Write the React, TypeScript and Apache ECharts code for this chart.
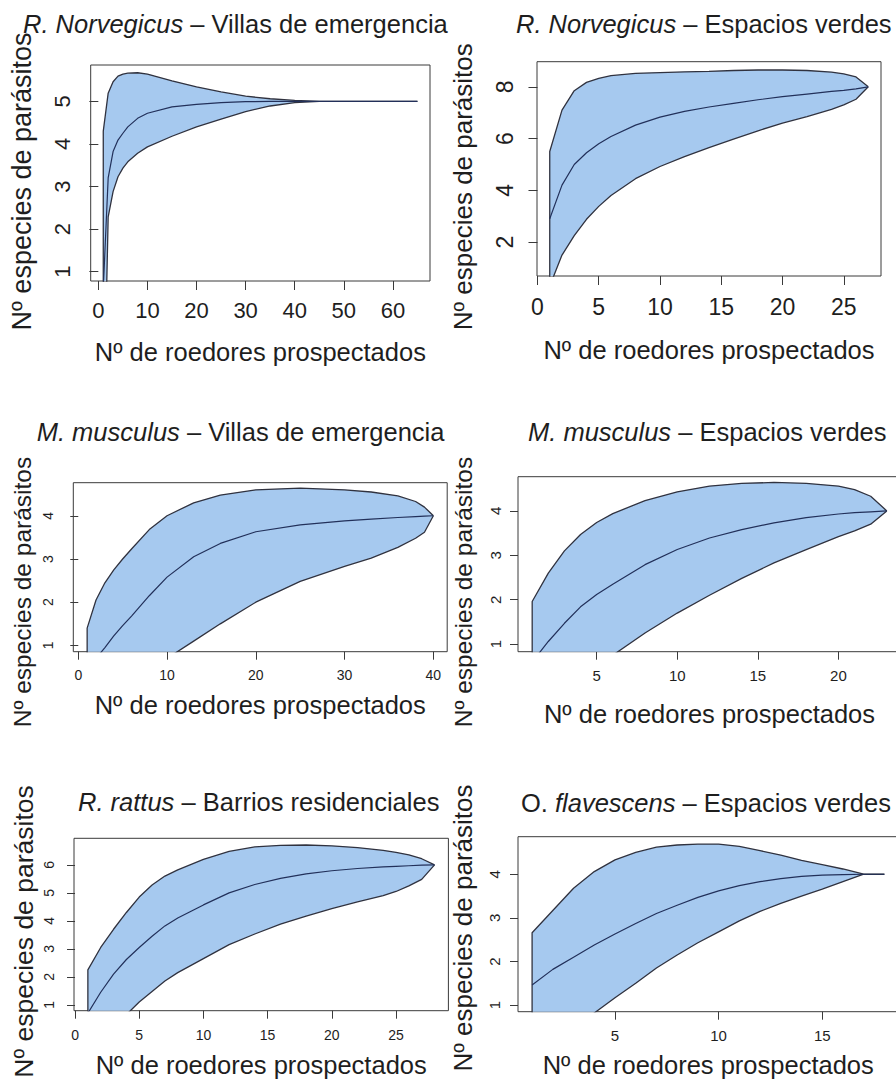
import React, { useEffect, useRef } from "react";
import * as echarts from "echarts";

// ---------- data ----------
const Y_NAME = "Nº especies de parásitos";
const X_NAME = "Nº de roedores prospectados";

// titles: [normal prefix, italic part, normal suffix]
const TITLE_1 = ["", "R. Norvegicus", " – Villas de emergencia"];
const TITLE_2 = ["", "R. Norvegicus", " – Espacios verdes"];
const TITLE_3 = ["", "M. musculus", " – Villas de emergencia"];
const TITLE_4 = ["", "M. musculus", " – Espacios verdes"];
const TITLE_5 = ["", "R. rattus", " – Barrios residenciales"];
const TITLE_6 = ["O. ", "flavescens", " – Espacios verdes"];

// Panel 1: R. Norvegicus – Villas de emergencia
const X1 = [1, 2, 3, 4, 5, 6, 8, 10, 15, 20, 25, 30, 35, 40, 45, 50, 55, 60, 65];
const UPPER1 = [4.3, 5.19, 5.46, 5.59, 5.64, 5.66, 5.67, 5.64, 5.48, 5.34, 5.22, 5.12, 5.06, 5.02, 5.0, 5, 5, 5, 5];
const MEAN1 = [0.6, 3.2, 3.82, 4.09, 4.25, 4.4, 4.6, 4.72, 4.87, 4.93, 4.97, 4.99, 5.0, 5, 5, 5, 5, 5, 5];
const LOWER1 = [-3.1, 2.29, 2.88, 3.23, 3.43, 3.58, 3.78, 3.93, 4.18, 4.4, 4.58, 4.76, 4.89, 4.97, 5.0, 5, 5, 5, 5];
const XTICKS1 = [0, 10, 20, 30, 40, 50, 60];
const YTICKS1 = [1, 2, 3, 4, 5];

// Panel 2: R. Norvegicus – Espacios verdes
const X2 = [1, 2, 3, 4, 5, 6, 8, 10, 12, 14, 16, 18, 20, 22, 24, 25, 26, 27];
const UPPER2 = [5.5, 7.1, 7.85, 8.17, 8.33, 8.43, 8.52, 8.55, 8.58, 8.6, 8.63, 8.65, 8.65, 8.63, 8.57, 8.5, 8.38, 8.0];
const MEAN2 = [2.9, 4.2, 5.0, 5.45, 5.8, 6.08, 6.52, 6.83, 7.05, 7.22, 7.36, 7.5, 7.62, 7.72, 7.82, 7.86, 7.92, 8.0];
const LOWER2 = [0.3, 1.5, 2.25, 2.88, 3.38, 3.8, 4.45, 4.92, 5.3, 5.65, 5.98, 6.3, 6.6, 6.85, 7.13, 7.3, 7.52, 8.0];
const XTICKS2 = [0, 5, 10, 15, 20, 25];
const YTICKS2 = [2, 4, 6, 8];

// Panel 3: M. musculus – Villas de emergencia
const X3 = [1, 2, 3, 4, 5, 6, 8, 10, 13, 16, 20, 25, 30, 33, 36, 38, 39, 40];
const UPPER3 = [1.4, 2.05, 2.45, 2.75, 3.0, 3.23, 3.68, 4.0, 4.3, 4.48, 4.6, 4.64, 4.6, 4.55, 4.46, 4.33, 4.2, 4.0];
const MEAN3 = [0.45, 0.7, 0.95, 1.22, 1.46, 1.68, 2.15, 2.58, 3.05, 3.36, 3.63, 3.79, 3.88, 3.92, 3.96, 3.98, 3.99, 4.0];
const LOWER3 = [-0.5, -0.55, -0.45, -0.25, -0.05, 0.13, 0.4, 0.7, 1.1, 1.5, 2.0, 2.48, 2.83, 3.02, 3.27, 3.48, 3.62, 4.0];
const XTICKS3 = [0, 10, 20, 30, 40];
const YTICKS3 = [1, 2, 3, 4];

// Panel 4: M. musculus – Espacios verdes
const X4 = [1, 2, 3, 4, 5, 6, 8, 10, 12, 14, 16, 18, 20, 21, 22, 23];
const UPPER4 = [1.96, 2.6, 3.1, 3.47, 3.74, 3.94, 4.23, 4.43, 4.56, 4.62, 4.64, 4.62, 4.56, 4.48, 4.33, 4.0];
const MEAN4 = [0.6, 1.06, 1.47, 1.84, 2.12, 2.35, 2.79, 3.13, 3.39, 3.58, 3.73, 3.85, 3.93, 3.96, 3.98, 4.0];
const LOWER4 = [-0.76, -0.48, -0.15, 0.18, 0.48, 0.75, 1.25, 1.7, 2.1, 2.48, 2.83, 3.13, 3.42, 3.55, 3.7, 4.0];
const XTICKS4 = [5, 10, 15, 20];
const YTICKS4 = [1, 2, 3, 4];

// Panel 5: R. rattus – Barrios residenciales
const X5 = [1, 2, 3, 4, 5, 6, 7, 8, 10, 12, 14, 16, 18, 20, 22, 24, 25, 26, 27, 28];
const UPPER5 = [2.25, 3.05, 3.7, 4.3, 4.85, 5.28, 5.6, 5.82, 6.2, 6.48, 6.64, 6.7, 6.71, 6.68, 6.62, 6.52, 6.45, 6.36, 6.22, 6.0];
const MEAN5 = [0.7, 1.45, 2.1, 2.62, 3.05, 3.45, 3.82, 4.1, 4.57, 5.0, 5.3, 5.52, 5.68, 5.79, 5.87, 5.93, 5.95, 5.97, 5.99, 6.0];
const LOWER5 = [-0.85, -0.15, 0.35, 0.65, 1.1, 1.48, 1.85, 2.15, 2.65, 3.15, 3.53, 3.88, 4.17, 4.44, 4.68, 4.9, 5.05, 5.25, 5.48, 6.0];
const XTICKS5 = [0, 5, 10, 15, 20, 25];
const YTICKS5 = [1, 2, 3, 4, 5, 6];

// Panel 6: O. flavescens – Espacios verdes
const X6 = [1, 2, 3, 4, 5, 6, 7, 8, 9, 10, 11, 12, 13, 14, 15, 16, 17, 18];
const UPPER6 = [2.66, 3.17, 3.68, 4.06, 4.33, 4.5, 4.62, 4.67, 4.69, 4.69, 4.64, 4.54, 4.44, 4.32, 4.22, 4.12, 4.0, 4.0];
const MEAN6 = [1.46, 1.82, 2.1, 2.38, 2.63, 2.87, 3.1, 3.29, 3.47, 3.62, 3.74, 3.83, 3.9, 3.95, 3.98, 3.99, 4.0, 4.0];
const LOWER6 = [0.26, 0.45, 0.6, 0.82, 1.17, 1.5, 1.85, 2.15, 2.43, 2.68, 2.93, 3.15, 3.33, 3.5, 3.66, 3.83, 4.0, 4.0];
const XTICKS6 = [5, 10, 15];
const YTICKS6 = [1, 2, 3, 4];

// ---------- styles / layout ----------
const FONT = "'Liberation Sans', Arial, Helvetica, sans-serif";
const TEXT = "#1e1e1e";
const AXIS = "#3a3a3a";
const FILL = "#a6c9ef";
const EDGE = "#30323f";
const MEANC = "#22305a";

type Layout = {
  box: [number, number, number, number]; // left, top, width, height
  xr: [number, number];
  yr: [number, number];
  tickSize: number;
  tickLen: number;
  xLabMargin: number;
  yLabMargin: number;
  xNameGap: number;
  titleLeft: number;
  titleMid: number;
  yName: [number, number, number]; // cx, cy, fontSize
};

const PANELS = [
  {
    x: X1, u: UPPER1, m: MEAN1, l: LOWER1, xt: XTICKS1, yt: YTICKS1, title: TITLE_1,
    lay: { box: [90.7, 65, 339.3, 216], xr: [-1.56, 67.56], yr: [0.782, 5.852], tickSize: 22, tickLen: 9,
      xLabMargin: 18, yLabMargin: 17, xNameGap: 58, titleLeft: 23, titleMid: 24, yName: [22, 181.5, 27] } as Layout,
  },
  {
    x: X2, u: UPPER2, m: MEAN2, l: LOWER2, xt: XTICKS2, yt: YTICKS2, title: TITLE_2,
    lay: { box: [537, 61.7, 344, 214.3], xr: [-0.04, 28.04], yr: [0.69, 8.97], tickSize: 23, tickLen: 9,
      xLabMargin: 19, yLabMargin: 21, xNameGap: 61, titleLeft: 516, titleMid: 24, yName: [463, 186.7, 26] } as Layout,
  },
  {
    x: X3, u: UPPER3, m: MEAN3, l: LOWER3, xt: XTICKS3, yt: YTICKS3, title: TITLE_3,
    lay: { box: [73.3, 482.7, 373.9, 169], xr: [-0.56, 41.56], yr: [0.855, 4.765], tickSize: 14, tickLen: 8,
      xLabMargin: 16, yLabMargin: 18, xNameGap: 40.5, titleLeft: 36.7, titleMid: 432.5, yName: [22, 592, 24.5] } as Layout,
  },
  {
    x: X4, u: UPPER4, m: MEAN4, l: LOWER4, xt: XTICKS4, yt: YTICKS4, title: TITLE_4,
    lay: { box: [518, 476.7, 383, 175], xr: [0.12, 23.88], yr: [0.83, 4.77], tickSize: 15, tickLen: 8,
      xLabMargin: 16, yLabMargin: 15, xNameGap: 50, titleLeft: 528, titleMid: 432.5, yName: [463, 592, 24.5] } as Layout,
  },
  {
    x: X5, u: UPPER5, m: MEAN5, l: LOWER5, xt: XTICKS5, yt: YTICKS5, title: TITLE_5,
    lay: { box: [74, 838.3, 374.4, 172.4], xr: [-0.08, 29.08], yr: [0.79, 6.95], tickSize: 14, tickLen: 8,
      xLabMargin: 17, yLabMargin: 18, xNameGap: 41.5, titleLeft: 78, titleMid: 802, yName: [24, 931.5, 26.5] } as Layout,
  },
  {
    x: X6, u: UPPER6, m: MEAN6, l: LOWER6, xt: XTICKS6, yt: YTICKS6, title: TITLE_6,
    lay: { box: [518, 836.7, 380.5, 175], xr: [0.32, 18.68], yr: [0.85, 4.86], tickSize: 15, tickLen: 8,
      xLabMargin: 16, yLabMargin: 16, xNameGap: 40.5, titleLeft: 521, titleMid: 803, yName: [463, 928, 26] } as Layout,
  },
];

const TITLE_SIZE = 25.5;
const XNAME_SIZE = 25.5;

function buildOption() {
  const grid: any[] = [];
  const xAxis: any[] = [];
  const yAxis: any[] = [];
  const title: any[] = [];
  const series: any[] = [];
  const graphic: any[] = [];

  PANELS.forEach((p, i) => {
    const L = p.lay;
    grid.push({
      left: L.box[0], top: L.box[1], width: L.box[2], height: L.box[3],
      show: true, borderColor: AXIS, borderWidth: 1, backgroundColor: "transparent",
      containLabel: false, outerBoundsMode: "none",
    });
    xAxis.push({
      gridIndex: i, type: "value", min: L.xr[0], max: L.xr[1],
      axisLine: { show: false },
      axisTick: { show: true, inside: false, length: L.tickLen, lineStyle: { color: AXIS, width: 1 }, customValues: p.xt },
      axisLabel: { customValues: p.xt, fontSize: L.tickSize, lineHeight: L.tickSize, margin: L.xLabMargin, color: TEXT, fontFamily: FONT },
      splitLine: { show: false },
      name: X_NAME, nameLocation: "middle", nameGap: L.xNameGap, nameMoveOverlap: false,
      nameTextStyle: { fontSize: XNAME_SIZE, lineHeight: XNAME_SIZE, color: TEXT, fontFamily: FONT },
    });
    yAxis.push({
      gridIndex: i, type: "value", min: L.yr[0], max: L.yr[1],
      axisLine: { show: false },
      axisTick: { show: true, inside: false, length: L.tickLen, lineStyle: { color: AXIS, width: 1 }, customValues: p.yt },
      axisLabel: { customValues: p.yt, rotate: 90, fontSize: L.tickSize, lineHeight: L.tickSize, margin: L.yLabMargin, color: TEXT, fontFamily: FONT },
      splitLine: { show: false },
    });
    const [pre, ital, post] = p.title;
    title.push({
      left: L.titleLeft, top: L.titleMid - TITLE_SIZE * 0.6, padding: 0,
      text: (pre ? `{n|${pre}}` : "") + `{i|${ital}}` + `{n|${post}}`,
      textStyle: {
        fontSize: TITLE_SIZE, fontWeight: "normal", color: TEXT, fontFamily: FONT, lineHeight: TITLE_SIZE * 1.2,
        rich: {
          i: { fontStyle: "italic", fontSize: TITLE_SIZE, fontFamily: FONT, color: TEXT, lineHeight: TITLE_SIZE * 1.2 },
          n: { fontStyle: "normal", fontSize: TITLE_SIZE, fontFamily: FONT, color: TEXT, lineHeight: TITLE_SIZE * 1.2 },
        },
      },
    });
    graphic.push({
      type: "text", x: L.yName[0], y: L.yName[1], rotation: Math.PI / 2, silent: true,
      style: {
        text: Y_NAME, fontSize: L.yName[2], fontFamily: FONT, fill: TEXT,
        align: "center", verticalAlign: "middle", textAlign: "center", textVerticalAlign: "middle",
      },
    });

    const lowerPts = p.x.map((x, k) => [x, p.l[k]]);
    const upperPts = p.x.map((x, k) => [x, p.u[k]]);
    const meanPts = p.x.map((x, k) => [x, p.m[k]]);
    const outline = [...lowerPts.slice().reverse(), ...upperPts];

    // confidence band: polygon placed through the panel's own axes (api.coord)
    series.push({
      type: "custom", xAxisIndex: i, yAxisIndex: i, data: outline, clip: true, silent: true, z: 1,
      encode: { x: 0, y: 1 },
      renderItem: (params: any, api: any) => {
        if (params.dataIndex !== 0) return null;
        const pts = outline.map((pt) => api.coord(pt));
        return { type: "polygon", shape: { points: pts }, style: { fill: FILL, stroke: "none" } };
      },
    });
    series.push({
      type: "line", xAxisIndex: i, yAxisIndex: i, data: outline,
      symbol: "none", lineStyle: { color: EDGE, width: 1.3 }, silent: true, z: 3,
    });
    series.push({
      type: "line", xAxisIndex: i, yAxisIndex: i, data: meanPts,
      symbol: "none", lineStyle: { color: MEANC, width: 1.2 }, silent: true, z: 3,
    });
  });

  return {
    animation: false,
    backgroundColor: "#ffffff",
    textStyle: { fontFamily: FONT },
    title, grid, xAxis, yAxis, series, graphic,
  };
}

export default function App() {
  const ref = useRef<HTMLDivElement>(null);
  useEffect(() => {
    if (!ref.current) return;
    const chart = echarts.init(ref.current, undefined, { renderer: "svg" });
    chart.setOption(buildOption() as any);
    return () => chart.dispose();
  }, []);
  return (
    <div
      ref={ref}
      style={{ position: "absolute", left: 0, top: 0, width: 896, height: 1082, background: "#fff" }}
    />
  );
}
